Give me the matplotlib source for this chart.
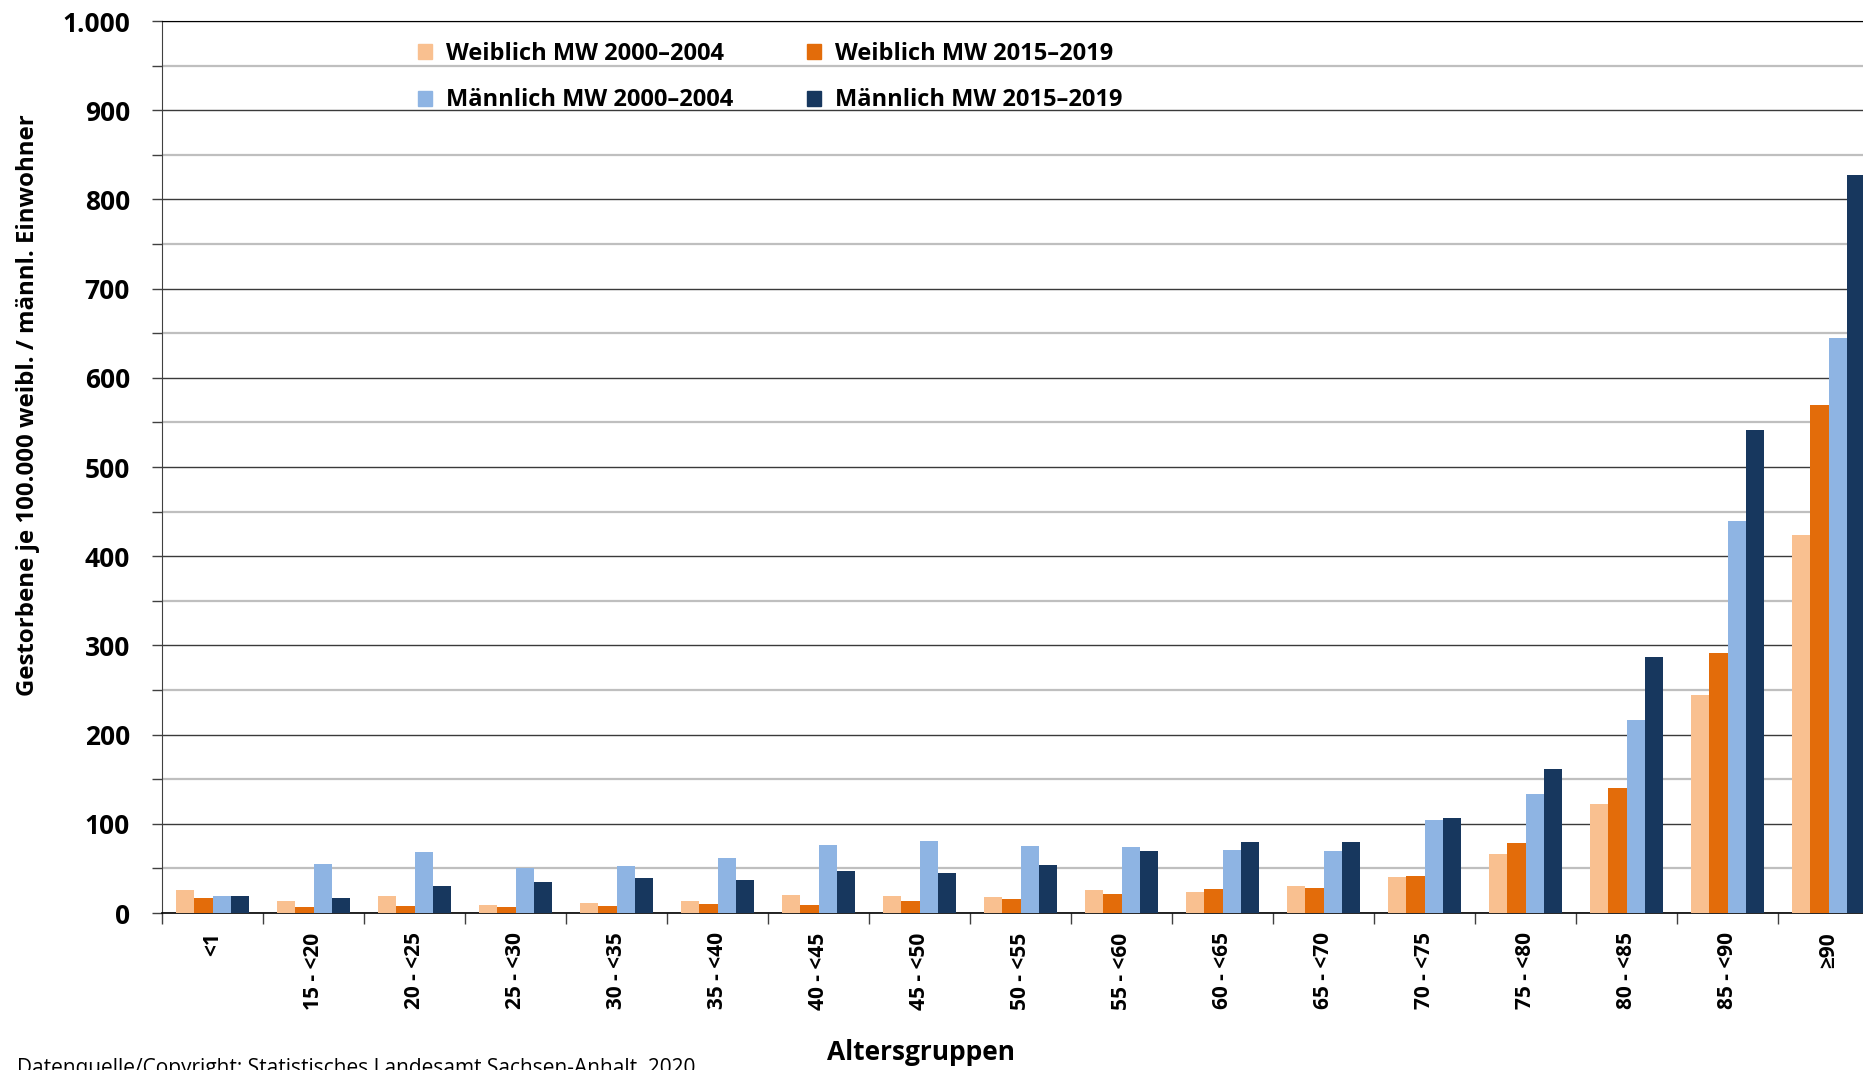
import numpy as np
import matplotlib
matplotlib.use("Agg")
import matplotlib.pyplot as plt
from matplotlib.patches import Patch
from matplotlib.ticker import FixedLocator, MultipleLocator, FuncFormatter

# ── Daten ──────────────────────────────────────────────────────────────────
altersgruppen = ["<1", "15 - <20", "20 - <25", "25 - <30", "30 - <35", "35 - <40",
                 "40 - <45", "45 - <50", "50 - <55", "55 - <60", "60 - <65",
                 "65 - <70", "70 - <75", "75 - <80", "80 - <85", "85 - <90", "≥90"]
weibl_2000 = [26, 14, 19, 9, 11, 13, 20, 19, 18, 26, 24, 30, 40, 66, 122, 244, 424]
weibl_2015 = [17, 7, 8, 7, 8, 10, 9, 13, 16, 21, 27, 28, 41, 79, 140, 292, 569]
maennl_2000 = [19, 55, 68, 50, 53, 62, 76, 81, 75, 74, 71, 69, 104, 133, 216, 440, 645]
maennl_2015 = [19, 17, 30, 35, 39, 37, 47, 45, 54, 69, 80, 80, 107, 161, 287, 542, 827]

serien = [
    ("Weiblich MW 2000–2004", weibl_2000, "#f9c090"),
    ("Weiblich MW 2015–2019", weibl_2015, "#e36c0a"),
    ("Männlich MW 2000–2004", maennl_2000, "#8eb4e3"),
    ("Männlich MW 2015–2019", maennl_2015, "#17375e"),
]

plt.rcParams["font.family"] = ["Open Sans", "DejaVu Sans"]

W, H = 1863, 1070
fig = plt.figure(figsize=(W / 100, H / 100), dpi=100)
# Achse ragt rechts leicht über den Bildrand hinaus (wie im Original abgeschnitten)
ax = fig.add_axes([162 / W, (H - 913) / H, 1717 / W, (913 - 21) / H])

x = np.arange(len(altersgruppen))
bw = 0.18
for i, (name, werte, farbe) in enumerate(serien):
    ax.bar(x + (i - 1.5) * bw, werte, width=bw, color=farbe, label=name,
           zorder=3, linewidth=0)

ax.set_xlim(-0.5, len(altersgruppen) - 0.5)
ax.set_ylim(0, 1000)

# ── Gitter ───────────────────────────────────────────────────────────────
ax.yaxis.set_major_locator(MultipleLocator(100))
ax.yaxis.set_minor_locator(MultipleLocator(50))
ax.grid(axis="y", which="major", color="#3a3a3a", lw=1.0, zorder=1)
ax.grid(axis="y", which="minor", color="#bfbfbf", lw=1.6, zorder=1)
ax.yaxis.set_major_formatter(FuncFormatter(lambda v, p: f"{int(v):,}".replace(",", ".")))
ax.tick_params(axis="y", which="both", direction="out", length=7, width=1,
               color="#404040", pad=16)
ax.tick_params(axis="y", which="major", labelsize=19)
for lab in ax.get_yticklabels():
    lab.set_fontweight("bold")

ax.xaxis.set_major_locator(FixedLocator(x))
ax.xaxis.set_minor_locator(FixedLocator(np.arange(len(altersgruppen) + 1) - 0.5))
ax.set_xticklabels(altersgruppen, rotation=90, fontsize=15, fontweight="bold", va="top")
ax.tick_params(axis="x", which="major", length=0, pad=14)
ax.tick_params(axis="x", which="minor", length=8, width=1, color="#404040")

ax.spines["right"].set_visible(False)
ax.spines["top"].set_color("#000000")
ax.spines["left"].set_color("#404040")
ax.spines["bottom"].set_color("#000000")
ax.spines["bottom"].set_linewidth(1.2)
ax.set_axisbelow(True)

# ── Legende ──────────────────────────────────────────────────────────────
handles = [Patch(color=c, label=n) for n, _, c in serien]
order = [0, 2, 1, 3]
leg = ax.legend([handles[k] for k in order], [serien[k][0] for k in order],
                ncol=2, frameon=False, loc="upper left",
                bbox_to_anchor=(418 / W, 1 - 42 / H), bbox_transform=fig.transFigure,
                borderaxespad=0, borderpad=0, handlelength=0.6, handleheight=0.6,
                handletextpad=0.6, columnspacing=3.1, labelspacing=0.95,
                prop={"size": 17, "weight": "bold"})

# ── Beschriftungen ───────────────────────────────────────────────────────
fig.text(28 / W, 1 - 405 / H, "Gestorbene je 100.000 weibl. / männl. Einwohner",
         rotation=90, ha="center", va="center", fontsize=17.3, fontweight="bold")
fig.text(921 / W, 1 - 1052 / H, "Altersgruppen", ha="center", va="center",
         fontsize=19, fontweight="bold")
fig.text(17 / W, 1 - 1058 / H,
         "Datenquelle/Copyright: Statistisches Landesamt Sachsen-Anhalt, 2020",
         ha="left", va="top", fontsize=15)

fig.savefig("out.png", dpi=100)
